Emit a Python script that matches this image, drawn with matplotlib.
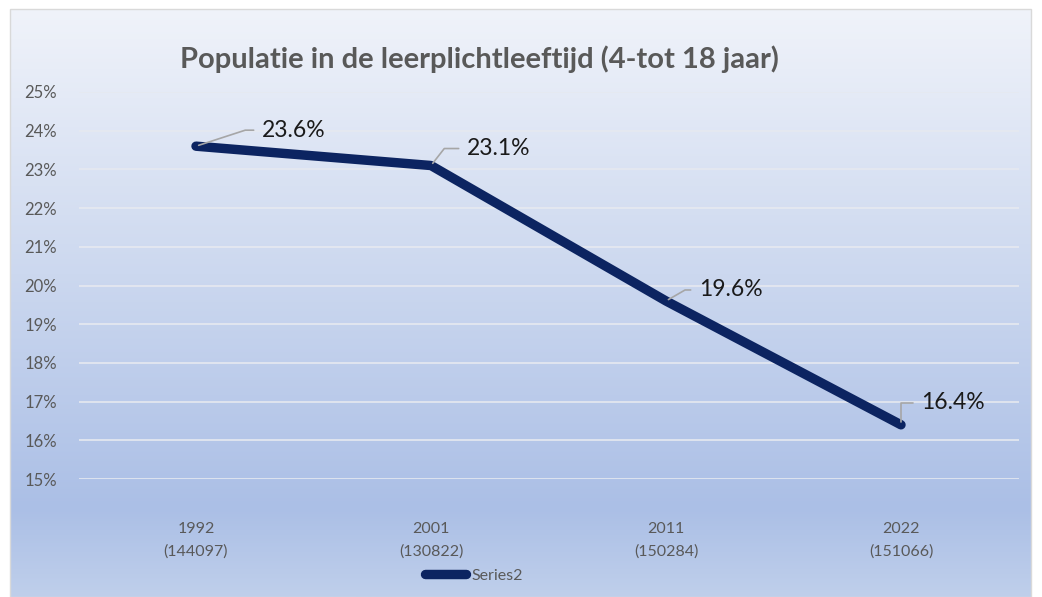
import numpy as np
import matplotlib
matplotlib.use("Agg")
import matplotlib.pyplot as plt
from matplotlib.colors import LinearSegmentedColormap

# ---- data ----
years = ["1992", "2001", "2011", "2022"]
populations = ["144097", "130822", "150284", "151066"]
values = [0.236, 0.231, 0.196, 0.164]
labels = ["23.6%", "23.1%", "19.6%", "16.4%"]
series_name = "Series2"
title = "Populatie in de leerplichtleeftijd (4-tot 18 jaar)"
yticks = [0.15, 0.16, 0.17, 0.18, 0.19, 0.20, 0.21, 0.22, 0.23, 0.24, 0.25]

plt.rcParams['font.family'] = ['Lato', 'DejaVu Sans']

W, H = 1042, 597
fig = plt.figure(figsize=(W / 100, H / 100), dpi=100)
fig.patch.set_facecolor("white")

# background gradient (chart area)
bg = fig.add_axes([10 / W, 0, 1021 / W, 588 / H], zorder=0)
cmap = LinearSegmentedColormap.from_list(
    "bg", [(0.0, "#f0f3fa"), (0.45, "#ccd8ef"), (0.85, "#abbfe6"), (1.0, "#bfcfeb")])
grad = np.linspace(0, 1, 256).reshape(-1, 1)
bg.imshow(grad, aspect="auto", cmap=cmap, extent=[0, 1, 0, 1], origin="upper")
bg.set_axis_off()
fig.add_artist(plt.Rectangle((10 / W, 0), 1021 / W, 588 / H, transform=fig.transFigure,
                             fill=False, edgecolor="#d9d9d9", linewidth=1, zorder=1))

ax = fig.add_axes([78.5 / W, 1 - 479 / H, 940 / W, (479 - 92) / H], zorder=2)
ax.patch.set_alpha(0)
x = np.arange(len(years))
line, = ax.plot(x, values, color="#0c2461", linewidth=6.8, solid_capstyle="round",
                solid_joinstyle="round", label=series_name, zorder=3)
ax.set_xlim(-0.5, len(years) - 0.5)
ax.set_ylim(0.15, 0.25)
ax.set_yticks(yticks)
ax.set_yticklabels([f"{round(t*100)}%" for t in yticks])
ax.set_xticks(x)
ax.set_xticklabels([f"{y}\n({p})" for y, p in zip(years, populations)], linespacing=1.75)
ax.tick_params(axis="both", length=0, colors="#595959")
ax.tick_params(axis="x", pad=31, labelsize=11.5)
ax.tick_params(axis="y", pad=39, labelsize=12)
for lab in ax.get_yticklabels():
    lab.set_horizontalalignment("left")
ax.grid(axis="y", color="#e6e9f0", linewidth=1.2, zorder=1)
ax.set_axisbelow(True)
for s in ax.spines.values():
    s.set_visible(False)

# data labels with leader lines (offsets in pixels)
offsets = [(66, 16), (36, 17), (33, 11), (20, 22)]
angles = [18, 52, 30, 90]
for xi, v, lab, (dx, dy), ang in zip(x, values, labels, offsets, angles):
    ax.annotate(lab, xy=(xi, v), xytext=(dx, dy), textcoords="offset pixels",
                ha="left", va="center", fontsize=16.5, color="#1a1a1a", zorder=5,
                arrowprops=dict(arrowstyle="-", color="#a6a6a6", lw=1.2,
                                shrinkA=4, shrinkB=2, relpos=(0, 0.5),
                                connectionstyle=f"angle,angleA=0,angleB={ang},rad=0"))

fig.text(479 / W, 1 - 59 / H, title, ha="center", va="center", fontsize=21,
         fontweight="bold", color="#595959", zorder=5)

leg = fig.legend(handles=[line], loc="center", bbox_to_anchor=(474 / W, 1 - 576 / H),
                 frameon=False, fontsize=11.5, handlelength=2.6, handletextpad=0.35,
                 labelcolor="#595959")

fig.savefig("out.png", dpi=100)
